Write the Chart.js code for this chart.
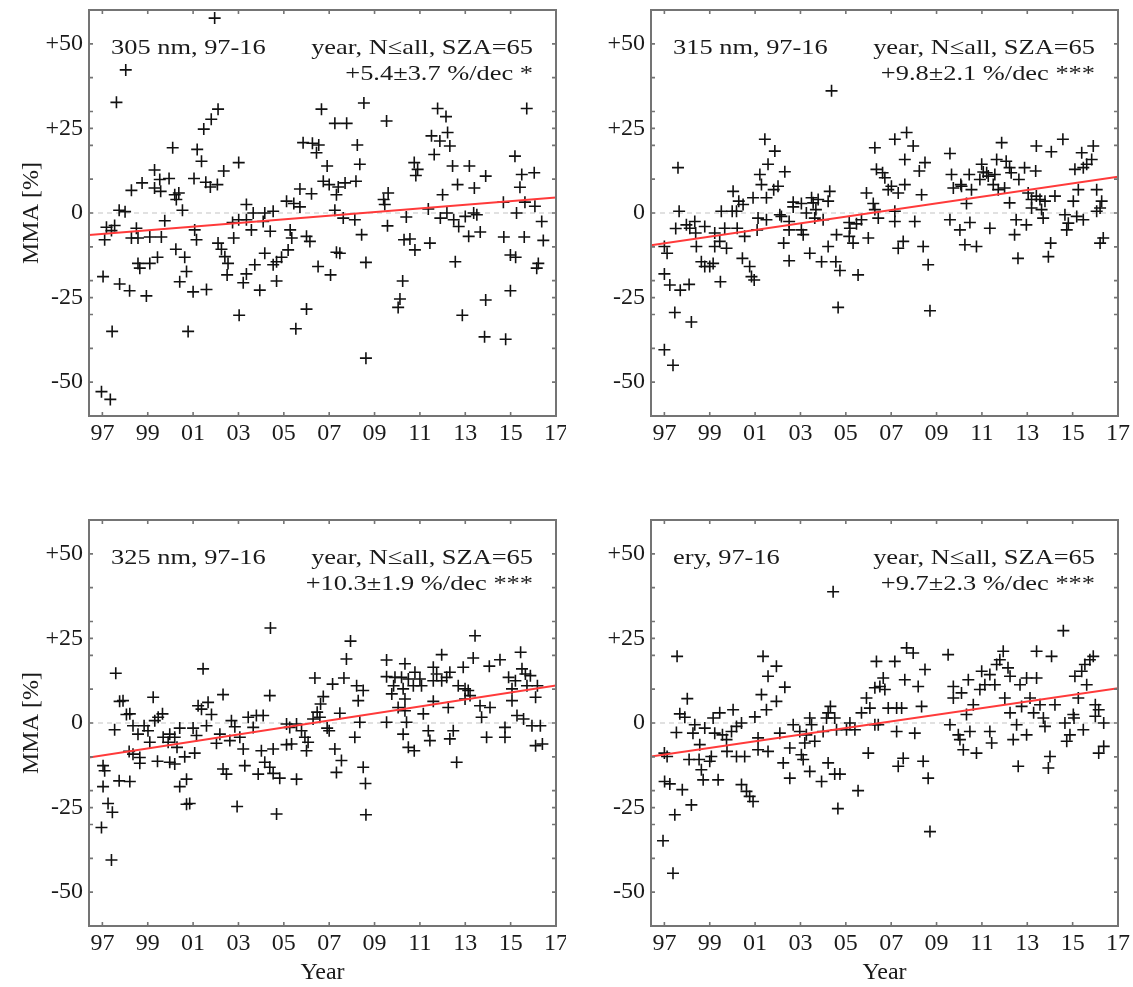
<!DOCTYPE html>
<html><head><meta charset="utf-8">
<script src="https://cdn.jsdelivr.net/npm/chart.js@4.4.1/dist/chart.umd.min.js"></script>
<style>
html,body{margin:0;padding:0;background:#fff}
body{width:1133px;height:987px;position:relative;overflow:hidden}
canvas{position:absolute;display:block}
</style></head><body>
<canvas id="c0" width="566" height="460" style="left:0;top:0"></canvas>
<canvas id="c1" width="567" height="460" style="left:566px;top:0"></canvas>
<canvas id="c2" width="566" height="487" style="left:0;top:500px"></canvas>
<canvas id="c3" width="567" height="487" style="left:566px;top:500px"></canvas>
<script>
// ---------- axis / text data ----------
const xTicks = [1997,1999,2001,2003,2005,2007,2009,2011,2013,2015,2017];
const yTicks = [-50,-25,0,25,50];
const yMinorTicks = [-50,-40,-30,-25,-20,-10,0,10,20,25,30,40,50];
const xRange = [1996.41, 2017.0];
const yRange = [-60, 60];
const panelLabels = ['305 nm, 97-16','315 nm, 97-16','325 nm, 97-16','ery, 97-16'];
const settingLabel = 'year, N\u2264all, SZA=65';
const trendLabels = ['+5.4\u00b13.7 %/dec *','+9.8\u00b12.1 %/dec ***','+10.3\u00b11.9 %/dec ***','+9.7\u00b12.3 %/dec ***'];
// trend line values at xRange[0] and xRange[1]
const trend305 = [-6.5, 4.6];
const trend315 = [-9.5, 10.7];
const trend325 = [-10.2, 11.1];
const trendEry = [-9.9, 10.3];

// ---------- 305 nm ----------
const year305 = [2001.95,1998.03,1997.62,2002.1,2001.8,2001.47,2000.1,2001.18,2001.37,1999.3,2002.35,2001.04,1999.94,1999.53,1998.75,1999.3,1999.57,1998.28,2001.56,2001.76,2002.07,2000.19,2000.37,2000.26,2000.53,1997.74,1998.0,1999.75,1997.54,1997.18,1998.5,1997.4,1997.1,1998.28,1998.57,1999.09,1999.6,2001.07,2001.15,2002.1,2002.25,2000.24,2000.63,2002.4,2002.54,1999.43,1999.09,1998.57,1998.65,2000.71,2002.5,1997.03,2000.41,1997.76,1998.2,2001.0,2001.59,1998.94,2003.03,1997.43,2000.78,1996.96,1997.35,2003.01,2002.79,2002.74,
2008.53,2006.66,2007.25,2007.77,2009.53,2005.85,2006.26,2006.54,2006.44,2008.24,2003.01,2006.91,2008.35,2006.74,2007.0,2007.4,2007.7,2008.18,2005.71,2006.22,2005.12,2005.71,2005.44,2007.32,2009.6,2009.4,2009.45,2003.35,2003.65,2004.16,2004.53,2007.25,2007.62,2008.13,2010.4,2003.35,2004.09,2003.57,2004.4,2005.28,2005.35,2006.0,2006.15,2008.43,2009.57,2010.3,2004.16,2005.19,2004.9,2004.68,2004.53,2007.32,2007.47,2003.72,2003.35,2003.21,2004.68,2003.94,2006.51,2007.06,2008.62,2010.24,2006.0,2005.53,2010.12,2010.04,2008.62,
2015.71,2011.78,2012.15,2012.22,2011.51,2011.88,2012.32,2011.63,2015.19,2010.75,2010.9,2010.82,2012.44,2013.18,2013.9,2012.66,2013.4,2012.0,2015.49,2016.04,2015.41,2014.68,2015.63,2016.07,2011.37,2011.9,2012.19,2012.49,2012.71,2013.0,2013.37,2013.51,2015.26,2016.37,2010.56,2010.78,2011.44,2013.15,2013.66,2014.7,2015.6,2016.44,2014.99,2015.22,2012.56,2016.22,2016.15,2014.99,2013.9,2012.87,2013.85,2014.78];
const mma305 = [57.6,42.3,32.7,30.7,27.7,24.8,19.3,18.8,15.3,12.7,12.4,10.2,10.2,9.9,8.9,7.4,6.4,6.7,9.1,7.7,8.4,5.4,5.9,4.0,0.8,0.8,0.4,-2.3,-3.7,-4.2,-4.5,-5.2,-7.9,-7.4,-7.4,-7.1,-7.1,-5.0,-7.9,-8.9,-10.7,-10.7,-13.1,-12.9,-14.9,-13.1,-14.9,-14.9,-16.3,-17.3,-18.3,-18.8,-20.3,-21.0,-23.0,-23.3,-22.6,-24.5,-30.2,-35.0,-35.0,-52.8,-55.1,-2.0,-7.4,-2.8,
32.5,30.7,26.5,26.5,27.2,20.8,20.6,20.1,17.8,20.1,14.9,13.9,14.4,9.4,8.4,7.7,8.9,9.4,7.1,5.7,3.5,1.8,2.8,5.4,5.9,4.0,2.5,2.5,0.0,0.0,0.5,0.8,-1.5,-2.0,-1.2,-2.0,-2.5,-5.0,-5.4,-5.0,-7.4,-6.9,-8.4,-6.4,-3.8,-7.9,-11.9,-10.9,-13.1,-14.4,-15.3,-11.6,-11.9,-15.3,-18.0,-20.6,-20.1,-22.8,-15.8,-18.3,-14.6,-20.1,-28.4,-34.2,-25.4,-27.9,-42.9,
30.9,30.9,28.5,23.8,22.8,21.3,19.8,17.3,16.8,14.9,12.9,11.1,13.9,13.9,10.9,8.4,7.4,5.4,11.4,11.9,7.6,3.2,3.2,2.0,1.2,-1.5,0.0,-2.0,-4.0,-1.0,0.0,-0.5,0.0,-2.5,-7.7,-10.9,-8.9,-6.9,-5.6,-7.1,-7.1,-8.1,-12.4,-13.1,-14.4,-14.9,-16.3,-23.0,-25.7,-30.2,-36.6,-37.3];

// ---------- 315 nm ----------
const year315 = [1997.6,1997.65,1997.0,1997.12,1997.0,1997.24,1997.46,1997.0,1997.38,1997.7,1998.09,1998.19,1997.5,1997.97,1998.12,1998.34,1998.38,1998.41,1998.78,1998.63,1998.78,1999.0,1999.15,1999.22,1999.22,1999.44,1999.47,1999.51,1999.66,1999.74,2000.03,1999.99,2000.18,2000.28,2000.47,2000.21,2000.54,2000.44,2000.76,2000.84,2000.96,2000.91,2001.21,2001.28,2001.43,2001.13,2001.09,2001.5,2001.57,2001.5,
2001.87,2002.31,2001.82,2002.01,2002.09,2002.16,2002.5,2002.5,2002.26,2002.5,2002.68,2002.68,2003.04,2003.04,2003.12,2003.26,2003.41,2003.49,2003.56,2003.68,2003.63,2003.93,2003.78,2004.0,2004.29,2004.22,2004.22,2004.37,2004.59,2004.56,2004.74,2004.66,2005.15,2005.18,2005.15,2005.32,2005.47,2005.69,2005.54,2005.91,2006.21,2006.28,2005.99,2006.28,2006.35,2006.62,2006.72,2006.43,2006.87,2007.01,2007.16,2007.16,2007.16,2007.31,2007.53,2007.31,2007.6,2007.68,2007.97,2007.6,2008.24,2008.49,2008.34,2008.04,2008.41,2008.63,2008.71,
2009.59,2009.66,2009.74,2010.1,2010.44,2010.54,2010.32,2009.59,2010.03,2010.47,2010.25,2010.76,2010.99,2011.06,2010.91,2011.28,2011.57,2011.65,2011.87,2011.72,2012.0,2012.07,2012.22,2012.29,2012.63,2012.88,2013.37,2013.4,2014.06,2014.57,2011.35,2012.22,2012.44,2012.51,2012.59,2012.96,2013.04,2013.19,2013.4,2013.19,2013.56,2013.7,2013.63,2013.78,2014.22,2014.03,2013.93,2014.66,2014.74,2014.81,2015.03,2015.1,2015.25,2015.4,2015.62,2015.84,2015.91,2015.47,2015.18,2015.47,2016.06,2016.28,2016.21,2016.06,2016.21,2016.35,2011.21,2011.5,2010.07];
const mma315 = [13.4,0.5,-9.9,-11.9,-18.0,-21.3,-29.4,-40.4,-45.0,-22.8,-21.1,-32.2,-4.6,-3.5,-4.5,-2.5,-5.9,-9.9,-4.0,-14.4,-15.8,-15.8,-14.9,-5.9,-9.9,-8.4,-20.3,0.5,-4.5,-10.4,6.4,0.5,0.5,3.5,2.5,-4.5,-6.9,-13.4,-15.8,-18.8,-19.8,4.5,11.4,8.4,21.8,-1.5,-5.0,4.5,14.4,-2.0,
18.3,12.2,6.9,7.9,-0.5,-1.0,-2.5,-5.0,-8.9,-14.1,3.2,1.8,2.8,-5.0,-6.4,0.0,-11.9,4.5,3.0,1.0,-1.5,-14.4,4.0,-2.0,6.4,3.5,-9.9,36.1,-6.4,-14.4,-17.0,-27.9,-2.8,-4.5,-6.9,-8.9,-3.2,-2.0,-18.3,5.9,2.8,1.0,-7.4,19.3,12.9,11.9,10.4,-1.5,6.9,7.9,21.8,-2.5,0.5,-10.4,-8.4,5.9,8.4,23.8,19.8,15.8,12.4,14.9,5.4,-2.5,-9.9,-15.3,-28.9,
17.6,11.4,7.4,7.9,11.4,6.9,2.8,-2.0,-5.0,-2.8,-9.4,-9.9,14.4,12.1,9.9,10.9,11.4,15.8,20.8,6.9,7.4,15.3,13.4,11.9,9.9,13.4,12.4,19.8,18.1,21.8,-4.5,3.0,-6.4,-2.0,-13.4,-3.5,5.9,4.0,5.0,1.5,4.0,-1.5,1.0,3.5,5.0,-8.9,-12.9,-0.5,-5.0,-3.0,3.5,12.9,6.9,17.8,14.4,15.8,19.8,13.4,-1.0,-2.0,6.9,3.5,1.5,0.5,-8.9,-7.4,11.9,8.4,8.4];

// ---------- 325 nm ----------
const year325 = [1997.59,2001.44,2002.32,1999.24,1997.76,1997.91,2001.22,2001.66,2001.37,1998.06,1998.21,2001.81,2001.59,1997.54,1998.35,1998.57,1998.84,1999.01,1999.09,1999.31,1999.46,1999.65,1999.68,1999.9,1999.97,2000.19,2000.41,2000.29,2001.0,2001.15,2001.07,2000.63,2000.71,2000.41,2000.85,2000.71,1998.18,1998.35,1998.65,1998.65,1999.43,1999.97,2000.19,1997.03,1997.1,1997.74,1998.21,1997.03,1997.25,1997.44,1996.96,1997.4,2002.18,2002.03,2002.32,2002.47,2002.62,2002.69,2002.84,2003.06,2003.21,2003.28,2002.94,2003.43,
2004.41,2004.38,2006.37,2007.15,2007.65,2007.76,2007.94,2008.21,2008.5,2008.28,2006.74,2006.62,2006.47,2006.59,2007.47,2003.79,2004.09,2003.65,2005.12,2005.56,2005.26,2005.78,2005.93,2006.07,2006.29,2006.91,2007.0,2008.13,2008.35,2004.01,2004.53,2005.12,2005.34,2006.0,2007.25,2007.54,2007.32,2003.87,2004.16,2004.38,2004.53,2004.82,2005.56,2004.68,2008.5,2008.6,2008.62,2009.53,2009.53,2009.9,2010.34,2010.19,2009.84,2009.76,2010.26,2010.34,2010.04,2009.53,2010.41,2010.26,2010.49,
2013.43,2011.96,2013.35,2014.53,2014.06,2012.91,2015.44,2010.49,2010.78,2011.0,2011.59,2011.59,2011.96,2012.18,2011.74,2011.07,2010.71,2012.32,2012.69,2012.99,2013.13,2013.21,2012.99,2013.65,2014.09,2013.72,2014.91,2015.21,2015.5,2015.65,2015.87,2015.72,2015.06,2015.06,2016.1,2016.18,2015.28,2015.57,2015.94,2016.31,2010.34,2011.59,2011.15,2011.37,2011.44,2012.25,2012.47,2012.32,2010.75,2012.62,2013.94,2014.75,2014.75,2016.1,2016.4];
const mma325 = [14.7,16.0,8.4,7.6,6.4,6.6,5.1,6.1,4.1,2.5,2.7,2.5,-0.8,-2.0,-0.8,-3.3,-0.8,-2.3,-5.7,0.7,1.7,2.7,-4.2,-5.7,-3.3,-4.2,-1.5,-7.2,-1.5,-3.7,-8.9,-10.0,-16.6,-18.8,-23.8,-24.0,-8.4,-9.2,-10.2,-11.9,-11.3,-11.6,-12.1,-12.6,-14.1,-17.1,-17.3,-18.8,-23.8,-26.4,-30.9,-40.5,-3.3,-6.0,-13.6,-15.1,-5.2,0.7,-1.1,-4.2,-7.7,-12.6,-24.7,1.7,
28.1,8.1,13.3,11.5,13.3,18.9,24.2,11.0,9.6,6.6,7.8,5.6,3.2,1.7,2.9,2.2,2.2,-1.3,-0.3,-0.3,-1.3,-2.3,-4.2,-5.7,1.2,-1.5,-2.3,-4.2,0.2,-8.2,-7.7,-6.4,-6.2,-8.2,-7.7,-11.1,-14.6,-15.1,-11.6,-13.1,-14.9,-16.3,-16.6,-26.9,-13.1,-17.9,-27.1,18.6,13.7,13.5,17.5,13.5,11.0,8.6,10.1,7.1,4.6,0.2,0.2,-3.3,-7.2,
25.8,20.2,19.2,18.7,16.8,16.5,20.9,13.0,15.0,13.0,16.5,12.5,12.5,13.5,14.5,11.0,11.0,15.0,11.0,10.1,9.6,8.1,7.1,5.1,4.6,1.7,13.5,12.5,16.0,14.5,14.0,11.0,10.1,6.6,7.6,11.0,2.2,1.2,-0.8,-0.8,3.6,6.4,2.7,-2.3,-5.2,4.6,-2.3,-4.7,-8.2,-11.6,-4.2,-1.3,-4.2,-6.7,-6.2];

// ---------- erythemal ----------
const yearEry = [1997.56,1997.0,1997.12,1997.01,1997.24,1997.79,1997.46,1996.94,1997.38,1998.19,1997.53,1997.68,1997.9,1998.01,1998.09,1998.26,1998.34,1998.56,1998.53,1998.63,1998.71,1998.78,1999.0,1999.07,1999.15,1999.22,1999.37,1999.44,1999.56,1999.74,1999.76,2000.03,1999.96,2000.18,2000.18,2000.4,2000.54,2000.4,2000.62,2000.76,2000.91,2000.99,2001.13,2001.13,2001.28,2001.35,2001.57,2001.5,2001.57,
2001.94,2002.31,2001.94,2002.09,2002.53,2002.24,2002.53,2002.68,2002.97,2003.04,2003.12,2003.41,2003.19,2003.26,2003.49,2003.63,2003.41,2003.93,2004.0,2004.15,2004.22,2004.32,2004.22,2004.44,2004.59,2004.51,2004.74,2004.65,2005.03,2005.18,2005.4,2005.54,2005.69,2005.91,2006.06,2005.99,2006.28,2006.35,2006.28,2006.5,2006.65,2006.72,2006.43,2006.87,2007.16,2007.24,2007.24,2007.46,2007.53,2007.31,2007.68,2007.97,2007.6,2008.19,2008.49,2008.04,2008.34,2008.41,2008.63,2008.71,2004.51,
2009.51,2009.59,2009.74,2009.74,2010.1,2009.96,2010.03,2010.18,2010.47,2010.4,2010.32,2010.62,2010.76,2010.99,2010.91,2011.13,2011.35,2011.57,2011.35,2011.43,2011.65,2011.79,2011.94,2012.01,2012.15,2012.24,2012.24,2012.38,2012.53,2012.6,2012.68,2012.75,2012.97,2012.97,2013.12,2013.28,2013.41,2013.41,2013.56,2013.71,2013.78,2014.07,2013.93,2014.0,2014.22,2014.59,2014.66,2014.74,2014.88,2015.03,2015.1,2015.25,2015.4,2015.54,2015.76,2015.91,2015.62,2015.47,2016.0,2016.15,2016.0,2016.37,2016.15,2016.37,2015.06];
const mmaEry = [19.7,-8.9,-9.9,-17.3,-18.0,-19.7,-27.1,-34.8,-44.4,-24.2,-2.8,2.7,1.7,7.2,-10.8,-3.0,-0.5,-6.4,-10.8,-13.8,-16.8,-1.5,-11.3,-9.9,1.5,-3.0,-16.8,3.0,-3.5,-4.9,-8.4,3.9,-2.5,-1.0,-9.9,0.0,-9.9,-18.2,-20.2,-21.7,-23.2,1.8,-4.4,-7.9,8.4,19.7,13.8,3.9,-8.4,
16.8,10.6,6.4,-3.0,-7.4,-11.8,-16.3,-0.5,-2.5,-9.4,-10.8,-14.3,-5.9,-3.5,-0.5,-5.4,1.5,-17.3,-2.5,1.5,3.0,4.9,-11.8,38.8,-2.0,-15.1,-15.1,-25.3,-2.0,0.0,-2.0,-20.0,3.0,7.4,4.4,-8.9,-0.5,18.2,10.4,10.8,13.3,9.9,-0.5,4.4,18.2,-2.5,4.4,4.4,-10.4,-12.8,22.2,20.7,12.8,10.8,15.8,-3.0,4.9,-11.3,-16.3,-32.1,1.5,
20.2,-0.5,10.8,7.4,8.9,-3.5,-4.9,-7.9,-2.5,12.8,2.5,5.4,-8.9,15.3,9.9,11.3,14.3,11.3,-2.5,-5.9,17.3,18.7,21.2,7.4,16.3,13.8,3.0,-4.9,-0.5,-12.8,11.3,4.9,13.3,-3.5,7.4,3.0,13.3,21.2,5.4,1.5,-1.0,19.7,-13.3,-9.9,5.4,27.3,0.0,-5.4,-3.5,2.5,13.8,7.4,15.3,17.3,18.7,19.7,11.3,-2.0,5.4,3.9,2.0,0.0,-8.9,-6.9,1.5];

// ---------- drawing helpers ----------
const SERIF = '"Liberation Serif", "Times New Roman", serif';
const TEXT_STRETCH = 1.2;

function stretchedText(ctx, text, x, y, align) {
  ctx.save();
  ctx.font = '22px ' + SERIF;
  ctx.fillStyle = '#1a1a1a';
  ctx.textBaseline = 'middle';
  ctx.textAlign = align;
  ctx.translate(x, y);
  ctx.scale(TEXT_STRETCH, 1);
  ctx.fillText(text, 0, 0);
  ctx.restore();
}

const framePlugin = {
  id: 'frame',
  beforeDatasetsDraw(chart) {
    const {ctx, chartArea: a, scales: {y}} = chart;
    const y0 = y.getPixelForValue(0);
    ctx.save();
    ctx.strokeStyle = '#c4c4c4';
    ctx.lineWidth = 1.2;
    ctx.setLineDash([5, 4]);
    ctx.beginPath();
    ctx.moveTo(a.left, y0);
    ctx.lineTo(a.right, y0);
    ctx.stroke();
    ctx.restore();
  },
  afterDraw(chart, args, opts) {
    const {ctx, chartArea: a, scales: {x, y}} = chart;
    ctx.save();
    ctx.strokeStyle = '#747474';
    ctx.lineWidth = 1.6;
    ctx.beginPath();
    xTicks.forEach(v => {
      const px = x.getPixelForValue(v);
      ctx.moveTo(px, a.bottom); ctx.lineTo(px, a.bottom - 4);
      ctx.moveTo(px, a.top); ctx.lineTo(px, a.top + 4);
    });
    yMinorTicks.forEach(v => {
      const py = y.getPixelForValue(v);
      ctx.moveTo(a.left, py); ctx.lineTo(a.left + 4, py);
      ctx.moveTo(a.right, py); ctx.lineTo(a.right - 4, py);
    });
    ctx.stroke();
    ctx.lineWidth = 2;
    ctx.strokeRect(a.left, a.top, a.right - a.left, a.bottom - a.top);
    ctx.restore();
    stretchedText(ctx, opts.label, a.left + 22, a.top + 38, 'left');
    stretchedText(ctx, settingLabel, a.right - 23, a.top + 38, 'right');
    stretchedText(ctx, opts.trend, a.right - 23, a.top + 64, 'right');
  }
};

function makeChart(id, xs, ys, trend, idx, cfg) {
  const pts = xs.map((v, i) => ({x: v, y: ys[i]}));
  const zeroPad = s => { s.paddingTop = 0; s.paddingBottom = 0; s.paddingLeft = 0; s.paddingRight = 0; };
  return new Chart(document.getElementById(id), {
    data: {
      datasets: [
        {type: 'line', data: [{x: xRange[0], y: trend[0]}, {x: xRange[1], y: trend[1]}],
         borderColor: '#ff3a3a', borderWidth: 2, pointRadius: 0, order: 0},
        {type: 'scatter', data: pts, pointStyle: 'cross', pointRadius: 6, pointHoverRadius: 6,
         borderColor: '#111', backgroundColor: '#111', borderWidth: 1.6, order: 1}
      ]
    },
    options: {
      responsive: false, animation: false, events: [],
      layout: {autoPadding: false, padding: {top: cfg.padTop, right: cfg.padRight, left: 0, bottom: 0}},
      plugins: {legend: {display: false}, tooltip: {enabled: false},
                frame: {label: panelLabels[idx], trend: trendLabels[idx]}},
      scales: {
        x: {
          type: 'linear', position: 'bottom', min: xRange[0], max: xRange[1],
          grid: {display: false, drawTicks: false}, border: {display: false},
          afterBuildTicks: s => { s.ticks = xTicks.map(v => ({value: v})); },
          ticks: {autoSkip: false, maxRotation: 0, padding: cfg.xTickPad, color: '#1a1a1a',
                  font: {family: SERIF, size: 24},
                  callback: v => String(v % 100).padStart(2, '0')},
          title: {display: cfg.xTitle, text: 'Year', color: '#1a1a1a',
                  font: {family: SERIF, size: 24}, padding: {top: 0, bottom: cfg.xTitlePad}},
          afterFit: s => { s.height = cfg.xHeight; zeroPad(s); }
        },
        y: {
          type: 'linear', position: 'left', min: yRange[0], max: yRange[1],
          grid: {display: false, drawTicks: false}, border: {display: false},
          afterBuildTicks: s => { s.ticks = yTicks.map(v => ({value: v})); },
          ticks: {autoSkip: false, padding: 6, color: '#1a1a1a',
                  font: {family: SERIF, size: 24},
                  callback: v => (v > 0 ? '+' + v : String(v))},
          title: {display: cfg.yTitle, text: 'MMA [%]', color: '#1a1a1a',
                  font: {family: SERIF, size: 24}, padding: {top: 17, bottom: 0}},
          afterFit: s => { s.width = cfg.yWidth; zeroPad(s); }
        }
      }
    },
    plugins: [framePlugin]
  });
}

makeChart('c0', year305, mma305, trend305, 0, {padTop: 10, padRight: 10, yWidth: 89, xHeight: 44, xTitle: false, yTitle: true, xTickPad: 3, xTitlePad: 0});
makeChart('c1', year315, mma315, trend315, 1, {padTop: 10, padRight: 15, yWidth: 85, xHeight: 44, xTitle: false, yTitle: false, xTickPad: 3, xTitlePad: 0});
makeChart('c2', year325, mma325, trend325, 2, {padTop: 20, padRight: 10, yWidth: 89, xHeight: 61, xTitle: true, yTitle: true, xTickPad: 3, xTitlePad: 0});
makeChart('c3', yearEry, mmaEry, trendEry, 3, {padTop: 20, padRight: 15, yWidth: 85, xHeight: 61, xTitle: true, yTitle: false, xTickPad: 3, xTitlePad: 0});
</script>
</body></html>
